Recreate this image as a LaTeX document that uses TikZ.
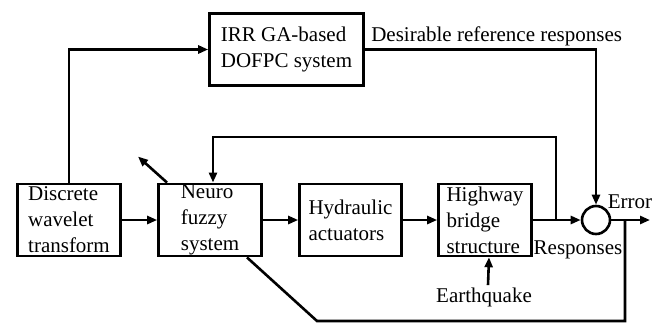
\documentclass[tikz,border=0pt]{standalone}
\usepackage{fontspec}
\setmainfont{Liberation Serif}
\usetikzlibrary{arrows.meta}
\begin{document}
\begin{tikzpicture}[x=1pt,y=-1pt,line width=2.6pt,
  txt/.style={font=\fontsize{21}{26}\selectfont, inner sep=1pt},
  blk/.style={txt, draw, line width=2.6pt, align=left, minimum height=72pt},
  sumnode/.style={circle, draw, line width=2.6pt, minimum size=28pt, inner sep=0pt},
  arr/.style={-{Triangle[length=10pt,width=8pt]}}]
\useasboundingbox (0,0) rectangle (666,324);
\node[blk, minimum width=103pt] (dwt) at (69,220) {Discrete\\wavelet\\transform};
\node[blk, minimum width=103pt] (nf) at (210,220) {Neuro\\fuzzy\\system};
\node[blk, minimum width=102pt] (hyd) at (350.5,220) {Hydraulic\\actuators};
\node[blk, minimum width=93pt] (hw) at (485,220) {Highway\\bridge\\structure};
\node[blk, minimum width=154pt] (irr) at (286.5,49.5) {IRR GA-based\\DOFPC system};
\node[sumnode] (sum) at (596,220) {};
\node[txt, anchor=west] (drr) at (369,36) {Desirable reference responses};
\node[txt] (err) at (630,202) {Error};
\node[txt] (resp) at (578,250) {Responses};
\node[txt] (eq) at (484,297) {Earthquake};
\coordinate (j) at (556,220);
\coordinate (jt) at (556,137);
\coordinate (out) at (650,220);
\coordinate (b1) at (625,220);
\coordinate (b2) at (625,321);
\coordinate (b3) at (317,321);
\draw[arr] (dwt) -- (nf);
\draw[arr] (nf) -- (hyd);
\draw[arr] (hyd) -- (hw);
\draw[arr] (hw) -- (sum);
\draw[arr] (sum) -- (out);
\draw[arr] (j) -- (jt) -| ([xshift=3pt]nf.north);
\draw[arr] (dwt.north) |- (irr.west);
\draw[arr] (irr.east) -| (sum.north);
\draw (b1) -- (b2) -- (b3) -- ([xshift=37pt]nf.south);
\draw[arr] ([xshift=4pt]eq.north) -- ([xshift=4pt]hw.south);
\draw[arr] ([xshift=-43pt]nf.north) -- ++(-29,-26);
\end{tikzpicture}
\end{document}
